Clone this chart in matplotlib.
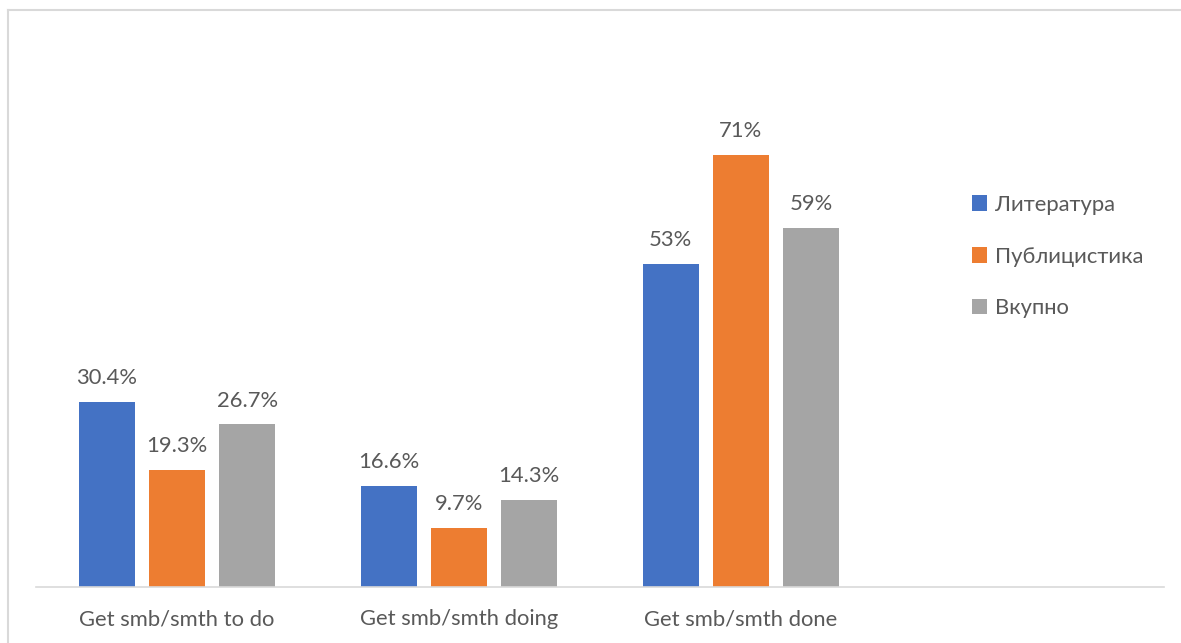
import matplotlib.pyplot as plt
from matplotlib.patches import Patch
from matplotlib.lines import Line2D
import numpy as np

# usage of the causative "get" constructions, % of occurrences
categories = ['Get smb/smth to do', 'Get smb/smth doing', 'Get smb/smth done', '']
series = ['Литература', 'Публицистика', 'Вкупно']
literatura = [30.4, 16.6, 53]
publicistika = [19.3, 9.7, 71]
vkupno = [26.7, 14.3, 59]
value_labels = [['30.4%', '16.6%', '53%'],
                ['19.3%', '9.7%', '71%'],
                ['26.7%', '14.3%', '59%']]

colors = ['#4472C4', '#ED7D31', '#A5A5A5']
text_color = '#595959'
plt.rcParams['font.family'] = ['Lato', 'DejaVu Sans']
fs = 15.8

fig = plt.figure(figsize=(11.81, 6.43), dpi=100)
ax = fig.add_axes([36 / 1181, 56 / 643, 1128 / 1181, 487 / 643])

x = np.arange(len(literatura))
width = 0.198
step = 0.249
for i, (vals, col) in enumerate(zip([literatura, publicistika, vkupno], colors)):
    pos = x + (i - 1) * step
    ax.bar(pos, vals, width=width, color=col, zorder=2)
    for px, v, lab in zip(pos, vals, value_labels[i]):
        ax.annotate(lab, (px, v), xytext=(0, 10), textcoords='offset points',
                    ha='center', va='bottom', fontsize=fs, color=text_color)

ax.set_xlim(-0.5, 3.5)
ax.set_ylim(0, 80)
ax.set_xticks(np.arange(len(categories)))
ax.set_xticklabels(categories, fontsize=fs, color=text_color)
ax.tick_params(axis='x', length=0, pad=16)
ax.set_yticks([])
for side in ['top', 'right', 'left']:
    ax.spines[side].set_visible(False)
ax.spines['bottom'].set_color('#D9D9D9')
ax.spines['bottom'].set_linewidth(1.2)

handles = [Patch(facecolor=c, edgecolor='none') for c in colors]
fig.legend(handles, series, loc='upper left', bbox_to_anchor=(952 / 1181, 1 - 175 / 643),
           frameon=False, fontsize=fs, labelcolor=text_color,
           handlelength=0.7, handleheight=0.7, handletextpad=0.35,
           labelspacing=1.45)

# chart border (left and top edges)
fig.add_artist(Line2D([8 / 1181, 8 / 1181], [0, 1 - 10 / 643],
                      color='#D9D9D9', lw=1.5, transform=fig.transFigure))
fig.add_artist(Line2D([8 / 1181, 1], [1 - 10 / 643, 1 - 10 / 643],
                      color='#D9D9D9', lw=1.5, transform=fig.transFigure))

fig.savefig('out.png', dpi=100)
